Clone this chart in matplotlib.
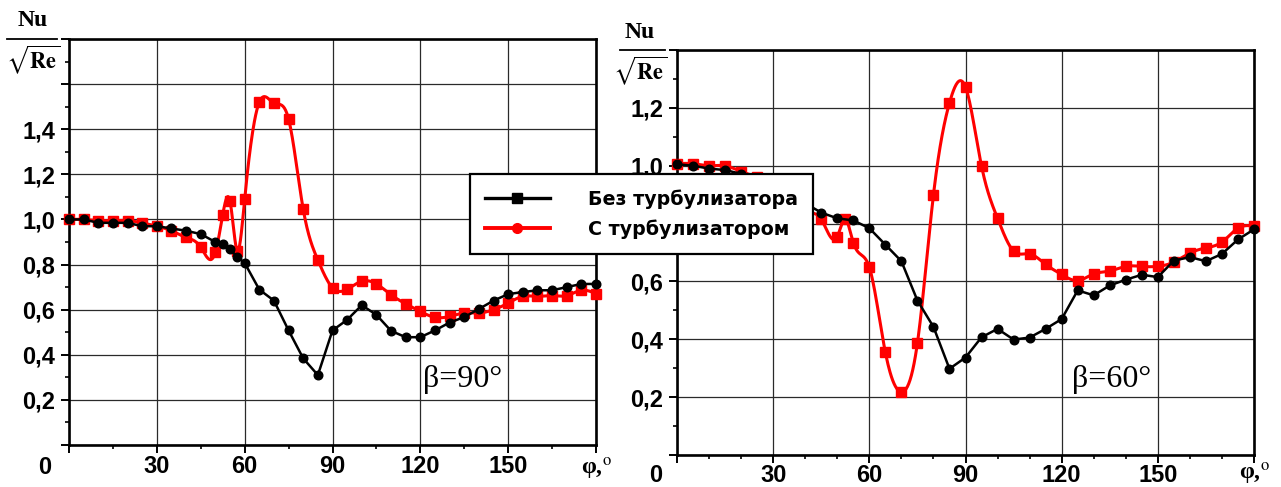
import numpy as np
import matplotlib
matplotlib.use("Agg")
import matplotlib.pyplot as plt
from matplotlib import font_manager
from matplotlib.lines import Line2D
from matplotlib.ticker import MultipleLocator, FuncFormatter

# ---------------- data ----------------
# beta = 90 deg
phi_90_plain = [0, 5, 10, 15, 20, 25, 30, 35, 40, 45, 50, 52.5, 55, 57.5, 60, 65, 70, 75, 80, 85,
                90, 95, 100, 105, 110, 115, 120, 125, 130, 135, 140, 145, 150, 155, 160, 165, 170, 175, 180]
nu_90_plain = [1.0, 1.0, 0.985, 0.985, 0.985, 0.97, 0.97, 0.96, 0.95, 0.935,
               0.90, 0.89, 0.867, 0.834, 0.807, 0.689, 0.640, 0.508, 0.384, 0.310,
               0.508, 0.555, 0.620, 0.577, 0.506, 0.478, 0.478, 0.508, 0.543, 0.567,
               0.603, 0.640, 0.669, 0.678, 0.686, 0.686, 0.700, 0.714, 0.714]
phi_90_turb = [0, 5, 10, 15, 20, 25, 30, 35, 40, 45, 50, 52.5, 55, 57.5, 60, 65, 70, 75, 80, 85,
               90, 95, 100, 105, 110, 115, 120, 125, 130, 135, 140, 145, 150, 155, 160, 165, 170, 175, 180]
nu_90_turb = [1.0, 1.0, 0.995, 0.995, 0.995, 0.985, 0.97, 0.95, 0.92, 0.877,
              0.855, 1.02, 1.08, 0.86, 1.09, 1.52, 1.515, 1.445, 1.045, 0.82,
              0.697, 0.69, 0.726, 0.714, 0.666, 0.626, 0.592, 0.566, 0.57, 0.585,
              0.585, 0.60, 0.629, 0.659, 0.659, 0.662, 0.662, 0.686, 0.671]

# beta = 60 deg
phi_60_plain = [0, 5, 10, 15, 20, 25, 30, 35, 40, 45, 50, 55, 60, 65, 70, 75, 80, 85, 90,
                95, 100, 105, 110, 115, 120, 125, 130, 135, 140, 145, 150, 155, 160, 165, 170, 175, 180]
nu_60_plain = [1.005, 1.0, 0.99, 0.985, 0.972, 0.955, 0.93, 0.90, 0.87, 0.838,
               0.818, 0.811, 0.784, 0.727, 0.670, 0.534, 0.443, 0.298, 0.337, 0.407,
               0.436, 0.399, 0.406, 0.436, 0.470, 0.569, 0.552, 0.586, 0.606, 0.623,
               0.615, 0.672, 0.684, 0.670, 0.695, 0.745, 0.780]
phi_60_turb = [0, 5, 10, 15, 20, 25, 30, 35, 40, 45, 50, 52.5, 55, 60, 65, 70, 75, 80, 85, 90,
               95, 100, 105, 110, 115, 120, 125, 130, 135, 140, 145, 150, 155, 160, 165, 170, 175, 180]
nu_60_turb = [1.007, 1.007, 1.0, 1.0, 0.98, 0.96, 0.93, 0.89, 0.84, 0.815,
              0.755, 0.815, 0.734, 0.649, 0.355, 0.218, 0.387, 0.899, 1.217, 1.272,
              0.999, 0.818, 0.705, 0.695, 0.659, 0.624, 0.603, 0.626, 0.636, 0.652,
              0.652, 0.652, 0.667, 0.698, 0.716, 0.736, 0.784, 0.792]

legend_labels = ["Без турбулизатора", "С турбулизатором"]
panel_titles = ["β=90°", "β=60°"]

# ---------------- styling ----------------
plt.rcParams["mathtext.fontset"] = "stix"
_names = {f.name for f in font_manager.fontManager.ttflist}
if "Liberation Sans Narrow" in _names:
    TICK_FONT = ["Liberation Sans Narrow", "DejaVu Sans"]
    TICK_SIZE = 17.5
else:
    TICK_FONT = ["Liberation Sans", "DejaVu Sans"]
    TICK_SIZE = 17
SERIF = ["Liberation Serif", "DejaVu Serif"]
RED = "#ff0000"


def smooth_line(x, y, n=24):
    """Natural cubic spline connection (like Origin 'spline' line) through the points."""
    x = np.asarray(x, float)
    y = np.asarray(y, float)
    m = len(x)
    h = np.diff(x)
    A = np.zeros((m, m))
    r = np.zeros(m)
    A[0, 0] = A[-1, -1] = 1.0
    for i in range(1, m - 1):
        A[i, i - 1] = h[i - 1]
        A[i, i] = 2 * (h[i - 1] + h[i])
        A[i, i + 1] = h[i]
        r[i] = 6 * ((y[i + 1] - y[i]) / h[i] - (y[i] - y[i - 1]) / h[i - 1])
    M = np.linalg.solve(A, r)
    xs, ys = [], []
    for i in range(m - 1):
        t = np.linspace(x[i], x[i + 1], n, endpoint=False)
        a = x[i + 1] - t
        b = t - x[i]
        s = (M[i] * a ** 3 + M[i + 1] * b ** 3) / (6 * h[i]) \
            + (y[i] / h[i] - M[i] * h[i] / 6) * a + (y[i + 1] / h[i] - M[i + 1] * h[i] / 6) * b
        xs.append(t)
        ys.append(s)
    xs.append([x[-1]])
    ys.append([y[-1]])
    return np.concatenate(xs), np.concatenate(ys)


W, H = 1281, 487
fig = plt.figure(figsize=(W / 100, H / 100), dpi=100)


def fx(px):
    return px / W


def fy(py):
    return 1 - py / H


def make_panel(rect, ymax, xminor, ylab_max, phi_p, nu_p, phi_t, nu_t, title, title_xy,
               zero_off, phi_off, xpad):
    ax = fig.add_axes(rect)
    ax.set_xlim(0, 180)
    ax.set_ylim(0, ymax)
    ax.xaxis.set_major_locator(MultipleLocator(30))
    ax.xaxis.set_minor_locator(MultipleLocator(xminor))
    ax.yaxis.set_major_locator(MultipleLocator(0.2))
    ax.yaxis.set_minor_locator(MultipleLocator(0.1))
    ax.xaxis.set_major_formatter(FuncFormatter(
        lambda v, p: "" if (v < 1 or v > 179) else f"{v:.0f}"))
    ax.yaxis.set_major_formatter(FuncFormatter(
        lambda v, p: f"{v:.1f}".replace(".", ",") if 0.1 < v < ylab_max + 0.01 else ""))
    ax.grid(True, which="major", color="#2a2a2a", linewidth=0.9)
    ax.set_axisbelow(True)
    for s in ax.spines.values():
        s.set_linewidth(1.9)
        s.set_color("black")
    ax.tick_params(which="major", direction="out", length=5.8, width=1.4)
    ax.tick_params(which="minor", direction="out", length=3.0, width=1.2)
    ax.tick_params(axis="y", which="major", pad=4)
    ax.tick_params(axis="x", which="major", pad=xpad)
    for lbl in ax.get_xticklabels() + ax.get_yticklabels():
        lbl.set_fontfamily(TICK_FONT)
        lbl.set_fontweight("bold")
        lbl.set_fontsize(TICK_SIZE)

    # turbulator series (red, smooth line, squares)
    sx, sy = smooth_line(phi_t, nu_t)
    ax.plot(sx, sy, color=RED, lw=2.2, zorder=3, clip_on=False)
    ax.plot(phi_t, nu_t, ls="none", marker="s", ms=6.8, color=RED, zorder=3, clip_on=False)
    # plain series (black, circles)
    ax.plot(phi_p, nu_p, color="black", lw=1.8, marker="o", ms=6.2, zorder=4, clip_on=False)

    ax.text(title_xy[0], title_xy[1], title, family=SERIF, fontsize=23,
            ha="left", va="baseline", zorder=5)
    ax.annotate("0", xy=(0, 0), xycoords="axes fraction", xytext=zero_off,
                textcoords="offset pixels", ha="center", va="center",
                family=TICK_FONT, weight="bold", fontsize=TICK_SIZE)
    ax.annotate(r"φ,$^{\mathrm{o}}$", xy=(1, 0), xycoords="axes fraction", xytext=phi_off,
                textcoords="offset pixels", ha="center", va="center",
                family=SERIF, weight="bold", fontsize=17)
    return ax


# left panel: x 69..596 px, y 39..445 px
axL = make_panel([fx(69), fy(445), fx(596) - fx(69), fy(39) - fy(445)], 1.8, 15, 1.4,
                 phi_90_plain, nu_90_plain, phi_90_turb, nu_90_turb,
                 panel_titles[0], (120.8, 0.255), (-24, -23), (0, -24), 1.5)
# right panel: x 677..1254 px, y 50..455 px
axR = make_panel([fx(677), fy(455), fx(1254) - fx(677), fy(50) - fy(455)], 1.4, 10, 1.2,
                 phi_60_plain, nu_60_plain, phi_60_turb, nu_60_turb,
                 panel_titles[1], (123.1, 0.236), (-21, -21), (0, -19), 1.0)

# y-axis quantity labels Nu / sqrt(Re)
for cx, y_nu, y_bar, y_re, x0, x1 in [(33, 21, 39, 60, 7, 57), (640, 32, 50, 71, 620, 665)]:
    fig.text(fx(cx), fy(y_nu), "Nu", ha="center", va="center", family=SERIF,
             weight="bold", fontsize=17)
    fig.add_artist(Line2D([fx(x0), fx(x1)], [fy(y_bar), fy(y_bar)],
                          transform=fig.transFigure, color="black", lw=1.3))
    fig.text(fx(cx), fy(y_re), r"$\sqrt{\mathbf{Re}}$", ha="center", va="center",
             fontsize=16)

# legend (in the reference the markers in the legend are swapped)
handles = [Line2D([], [], color="black", lw=2.4, marker="s", ms=7),
           Line2D([], [], color=RED, lw=2.8, marker="o", ms=7)]
leg = fig.legend(handles, legend_labels, loc="upper left",
                 bbox_to_anchor=(fx(470), fy(174)), bbox_transform=fig.transFigure,
                 borderaxespad=0, frameon=True, fancybox=False, framealpha=1,
                 edgecolor="black", facecolor="white",
                 prop=dict(family=["DejaVu Sans"], weight="bold", size=13.65),
                 handlelength=3.4, handletextpad=2.0, borderpad=0.8, labelspacing=0.55)
leg.get_frame().set_linewidth(1.6)
leg.set_zorder(10)

fig.savefig("out.png", dpi=100)
